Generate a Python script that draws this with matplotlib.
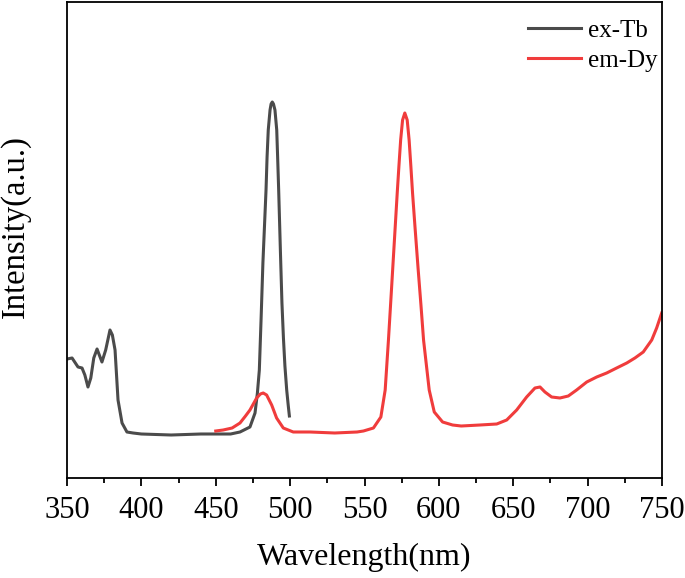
import matplotlib.pyplot as plt
import numpy as np

plt.rcParams['font.family'] = ['Liberation Serif', 'DejaVu Serif']

# ex-Tb excitation spectrum
ex_nm = [350, 353.4, 357.4, 360.1, 362, 364.1, 366, 368, 370.2, 373.5, 376, 378.9,
         380.5, 382.3, 384.3, 387.0, 390.3, 394.4, 400, 420, 440, 460, 466.3, 473,
         476.4, 478, 479.3, 480.5, 481.7, 483.8, 484.5, 485.3, 486.5, 487.2, 488.0,
         488.8, 489.8, 491.0, 491.6, 492.3, 493.5, 494.5, 495.5, 496.5, 497.7, 498.7, 499.5]
ex_int = [119, 120, 111, 110, 103, 91, 100, 120, 129, 116, 128, 148,
          143, 128, 78, 55, 46, 45, 44, 43, 44, 44, 46, 51,
          65, 85, 108, 160, 215, 288, 321, 348, 368, 374, 376,
          374, 368, 348, 321, 288, 225, 175, 140, 112, 88, 73, 62]

# em-Dy emission spectrum
em_nm = [450, 455, 461, 466.3, 470, 473, 477.5, 480, 481.9, 484.2, 487.6, 490.9,
         495.4, 502.1, 513.4, 530, 545, 549.3, 556.0, 561.0, 563.9, 566.1, 568,
         570, 572.0, 573.1, 574.3, 575.6, 577.1, 578.7, 580.0, 581.2, 582.3, 584,
         586, 588, 589.7, 593.5, 596.9, 602.5, 609.2, 615,
         627.6, 638.9, 645.6, 652.3, 659, 664.6, 668, 671.3, 675.8, 681.4, 687,
         692.6, 699.4, 706.1, 712.8, 719.5, 726.3, 731.8, 737.4, 743.1, 746.4, 749.8]
em_int = [47, 48, 50, 55, 62, 68, 80, 84, 85, 83, 73, 60,
          50, 46, 46, 45, 46, 47, 50, 61, 88, 138, 185,
          235, 285, 311, 338, 358, 365, 358, 338, 311, 285, 250,
          210, 172, 138, 88, 66, 56, 53, 52,
          53, 54, 58, 68, 81, 90, 91, 86, 81, 80, 82,
          88, 96, 101, 105, 110, 115, 120, 126, 138, 150, 165]

fig = plt.figure(figsize=(6.85, 5.78), dpi=100)
ax = fig.add_axes([67/685, 100/578, 595/685, 476/578])

ax.plot(ex_nm, ex_int, color='#4b4b4b', lw=2.2, label='ex-Tb')
ax.plot(em_nm, em_int, color='#f03c3c', lw=2.2, label='em-Dy')

ax.set_xlim(350, 750)
ax.set_ylim(0, 476)
ax.set_xticks(np.arange(350, 751, 50))
ax.set_xticks(np.arange(375, 750, 50), minor=True)
ax.set_yticks([])
ax.tick_params(axis='x', which='major', direction='out', length=6, width=1.3, labelsize=22, pad=7)
ax.tick_params(axis='x', which='minor', direction='out', length=3.6, width=1.3)
for s in ax.spines.values():
    s.set_linewidth(1.3)

ax.set_xlabel('Wavelength(nm)', fontsize=23, labelpad=13)
ax.set_ylabel('Intensity(a.u.)', fontsize=23.5)
ax.yaxis.set_label_coords(-0.06, 0.529)

ax.legend(loc='upper right', bbox_to_anchor=(1.01, 0.985), frameon=False, fontsize=18,
          handlelength=2.1, handletextpad=0.3, labelspacing=0.3, borderaxespad=0)

fig.savefig('out.png', dpi=100)
